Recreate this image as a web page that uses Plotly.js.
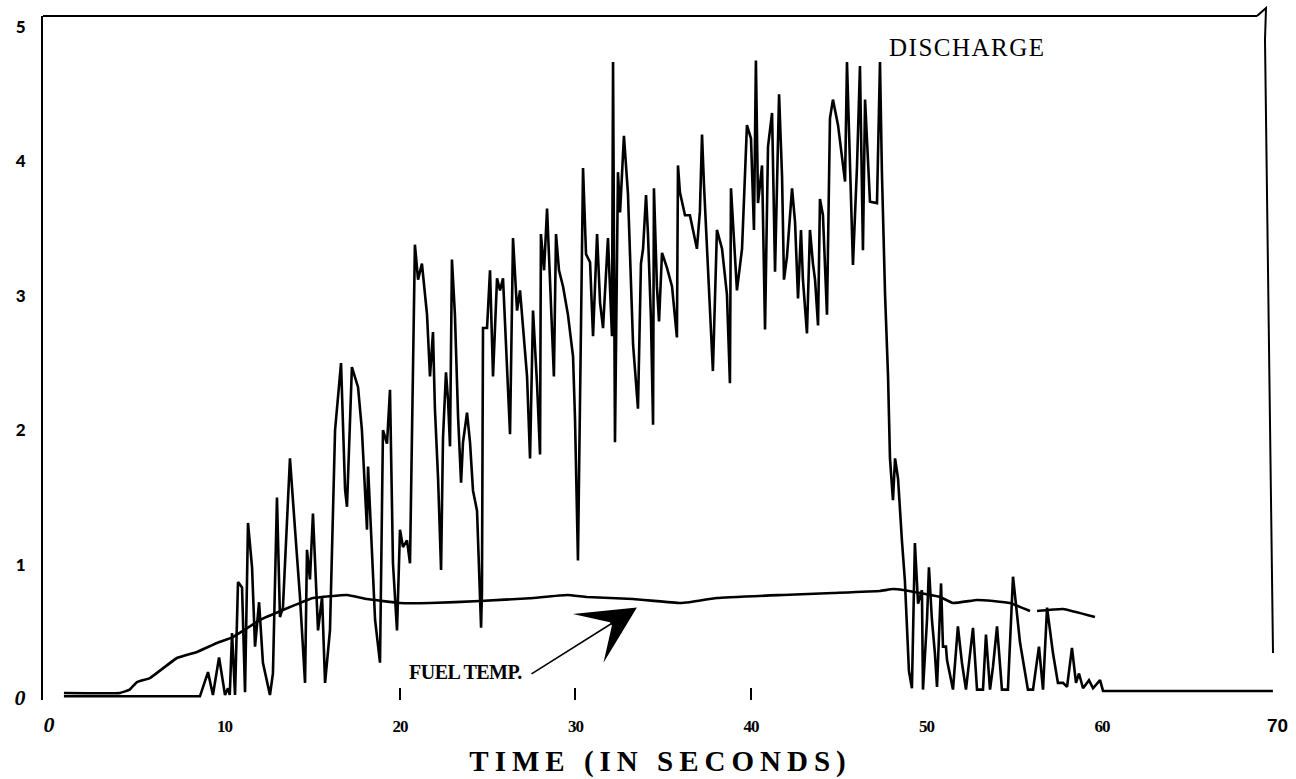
<!DOCTYPE html>
<html>
<head>
<meta charset="utf-8">
<script src="https://cdn.plot.ly/plotly-3.0.1.min.js"></script>
<style>
  html, body { margin: 0; padding: 0; background: #fff; }
  #chart { width: 1296px; height: 779px; }
  .g-xtitle text { letter-spacing: 6px; }
</style>
</head>
<body>
<div id="chart"></div>
<script>
// ---- data (time in seconds) ----
const fuelTime = [0.85, 4.05, 4.6, 5.01, 5.75, 7.29, 8.43, 9.57, 10.48, 12.02, 13.33, 15.04, 16.98, 18.12, 20.0, 21.71,
  24.56, 27.4, 29.52, 30.66, 33.28, 35.95, 36.5, 38.06, 41.82, 44.67, 47.35, 48.09, 48.66, 50.77, 51.51, 52.88,
  53.79, 54.76, 55.9, 56.1, 56.3, 57.78, 59.6];
const fuelTemp = [0.045, 0.045, 0.07, 0.126, 0.156, 0.305, 0.35, 0.417, 0.461, 0.588, 0.662, 0.751, 0.774, 0.744, 0.714, 0.714,
  0.729, 0.75, 0.774, 0.759, 0.744, 0.714, 0.72, 0.751, 0.774, 0.789, 0.804, 0.818, 0.811, 0.759, 0.714, 0.737,
  0.729, 0.714, 0.655, null, 0.655, 0.67, 0.61];

const dischargeTime = [0.85, 8.6, 9.06, 9.34, 9.69, 10.03, 10.2, 10.3, 10.43, 10.6, 10.77, 11.0, 11.17, 11.34, 11.57,
  11.74, 11.97, 12.19, 12.59, 12.76, 12.99, 13.16, 13.33, 13.73, 14.02, 14.3, 14.59, 14.7, 14.87, 15.04, 15.33,
  15.56, 15.73, 16.01, 16.3, 16.64, 16.87, 16.98, 17.26, 17.61, 17.83, 18.12, 18.18, 18.4, 18.58, 18.86, 19.03,
  19.26, 19.43, 19.6, 19.83, 20.0, 20.17, 20.4, 20.57, 20.85, 21.03, 21.25, 21.42,
  21.54, 21.71, 21.88, 21.99, 22.17, 22.34, 22.45, 22.62, 22.74, 22.85, 22.96, 23.13, 23.31, 23.48, 23.59, 23.82,
  23.99, 24.16, 24.39, 24.62, 24.67, 24.73, 24.96, 25.13, 25.3, 25.53, 25.7, 25.87, 26.1, 26.27, 26.44, 26.67,
  26.84, 27.01, 27.24, 27.41, 27.58, 27.81, 27.98, 28.03, 28.21, 28.38, 28.6, 28.77, 28.89, 29.06, 29.29, 29.57,
  29.86, 29.97, 30.14, 30.26, 30.43, 30.6, 30.83, 31.0, 31.23, 31.4, 31.57, 31.85, 32.08, 32.14, 32.25, 32.42,
  32.54, 32.76, 32.99, 33.28, 33.56,
  33.73, 33.85, 34.02, 34.13, 34.3, 34.42, 34.47, 34.64, 34.76, 34.93, 35.21, 35.5, 35.78, 35.84, 35.95, 36.24,
  36.52, 36.92, 37.09, 37.21, 37.32, 37.49, 37.66, 37.83, 38.06, 38.35, 38.63, 38.8, 38.86, 39.03, 39.2, 39.49,
  39.77, 40.0, 40.17, 40.28, 40.4, 40.63, 40.8, 40.97, 41.2, 41.37, 41.6, 41.77, 41.88, 42.05, 42.34, 42.51,
  42.68, 42.85, 42.96, 43.19, 43.36, 43.53, 43.65, 43.82, 43.93, 44.1, 44.33, 44.5, 44.67, 44.96, 45.36, 45.47,
  45.64, 45.81, 46.04, 46.21, 46.38, 46.5, 46.78, 47.18, 47.35, 47.46, 47.64, 47.81, 47.92, 48.09, 48.21, 48.38,
  48.6, 48.77, 49.0, 49.17, 49.34, 49.52, 49.74, 49.8, 50.03, 50.14, 50.31, 50.48, 50.6, 50.83, 50.94, 51.11,
  51.17, 51.34, 51.51, 51.79, 52.02, 52.25, 52.65, 52.88, 53.22, 53.39, 53.62, 53.79, 54.02, 54.3, 54.64, 54.93,
  55.33, 55.78, 56.07, 56.41, 56.64, 56.87, 57.21, 57.49, 57.78, 58.01, 58.29, 58.52, 58.69, 58.92, 59.26, 59.49,
  59.89, 60.06, 69.74];
const dischargeValue = [0.02, 0.02, 0.2, 0.03, 0.31, 0.03, 0.08, 0.03, 0.49, 0.03, 0.87, 0.83, 0.05, 1.31, 0.98,
  0.39, 0.72, 0.27, 0.03, 0.19, 1.5, 0.61, 0.68, 1.79, 1.26, 0.76, 0.12, 1.11, 0.89, 1.38, 0.51,
  0.76, 0.12, 0.51, 2.0, 2.5, 1.56, 1.43, 2.47, 2.32, 2.0, 1.26, 1.73, 1.03, 0.59, 0.27, 2.0,
  1.9, 2.3, 1.01, 0.51, 1.26, 1.13, 1.18, 1.01, 3.38, 3.12, 3.24, 2.99,
  2.86, 2.4, 2.73, 2.16, 1.64, 0.96, 1.94, 2.43, 2.22, 1.88, 3.27, 2.86, 2.1, 1.61, 1.91, 2.13,
  1.91, 1.55, 1.4, 0.53, 0.79, 2.76, 2.76, 3.19, 2.4, 3.13, 3.04, 3.13, 2.52, 1.97, 3.43, 2.89,
  3.04, 2.76, 2.4, 1.79, 2.89, 2.34, 1.82, 3.46, 3.19, 3.65, 3.01, 2.4, 3.46, 3.19, 3.07, 2.86,
  2.55, 2.1, 1.03, 2.1, 3.95, 3.31, 3.25, 2.7, 3.46, 2.95, 2.76, 3.43, 2.7, 4.74, 1.91, 3.92,
  3.62, 4.19, 3.76, 2.64, 2.16,
  3.24, 3.35, 3.75, 3.46, 2.83, 2.04, 3.8, 3.07, 2.81, 3.32, 3.21, 3.07, 2.69, 3.97, 3.77, 3.6,
  3.6, 3.35, 3.63, 4.2, 3.83, 3.35, 2.83, 2.44, 3.49, 3.35, 3.01, 2.35, 3.8, 3.41, 3.04, 3.35,
  4.27, 4.17, 3.49, 4.75, 3.69, 3.97, 2.75, 4.11, 4.36, 3.18, 4.5, 3.89, 3.12, 3.29, 3.8, 3.55,
  2.98, 3.49, 3.12, 2.72, 3.49, 3.24, 3.12, 2.78, 3.72, 3.6, 2.86, 4.32, 4.46, 4.27, 3.85, 4.74,
  4.04, 3.23, 3.96, 4.71, 3.34, 4.46, 3.7, 3.69, 4.74, 3.92, 3.01, 2.4, 1.79, 1.48, 1.79, 1.64,
  1.18, 0.88, 0.21, 0.08, 1.16, 0.71, 0.81, 0.07, 0.59, 0.98, 0.59, 0.34, 0.09, 0.86, 0.39, 0.39,
  0.29, 0.19, 0.07, 0.54, 0.27, 0.07, 0.53, 0.07, 0.07, 0.48, 0.07, 0.24, 0.54, 0.07, 0.07, 0.91,
  0.42, 0.07, 0.07, 0.39, 0.07, 0.68, 0.34, 0.12, 0.12, 0.09, 0.38, 0.12, 0.19, 0.08, 0.14, 0.08,
  0.14, 0.06, 0.06];

const xTickVals = [0, 10, 20, 30, 40, 50, 60, 70];
const xTickLabels = ['0', '10', '20', '30', '40', '50', '60', '70'];
const xMarkedTicks = [20, 30, 40];
const yTickVals = [0, 1, 2, 3, 4, 5];
const yTickLabels = ['0', '1', '2', '3', '4', '5'];
const xTitle = 'TIME (IN SECONDS)';
const dischargeLabel = 'DISCHARGE';
const fuelLabel = 'FUEL TEMP.';
// label anchor points (seconds, value)
const dischargeLabelPos = [47.75, 4.85];
const fuelLabelPos = [20.4, 0.2];
const arrowTail = [27.41, 0.18];
const arrowHead = [33.5, 0.68];

// ---- styling helpers ----
const italicZero = t => '<span style="font-family:\'Liberation Serif\';font-style:italic;font-weight:bold;font-size:22px">' + t + '</span>';
const xLabelStyle = (t, i) => {
  if (i === 0) return italicZero(t);
  if (i === xTickLabels.length - 1) return '<span style="font-family:\'Liberation Sans\';font-weight:bold;font-size:19px">' + t + '</span>';
  return '<span style="font-family:\'Liberation Serif\';font-weight:bold;font-size:17px;letter-spacing:-1px">' + t + '</span>';
};
const yLabelStyle = (t, i) => i === 0 ? italicZero(t)
  : '<span style="font-family:Lato;font-weight:900;font-size:17px">' + t + '</span>';

const traces = [
  { x: dischargeTime, y: dischargeValue, type: 'scatter', mode: 'lines',
    line: { color: '#000', width: 2.6 }, hoverinfo: 'skip', showlegend: false },
  { x: fuelTime, y: fuelTemp, type: 'scatter', mode: 'lines', connectgaps: false,
    line: { color: '#000', width: 2.6, shape: 'spline', smoothing: 0.3 }, hoverinfo: 'skip', showlegend: false },
  { x: xMarkedTicks, y: xMarkedTicks.map(() => null), xaxis: 'x2', yaxis: 'y', type: 'scatter', mode: 'lines',
    hoverinfo: 'skip', showlegend: false }
];

const px = v => (v - 43) / 1235;   // helper for frame shapes only (paper fraction)
const py = v => (700 - v) / 684;

const layout = {
  width: 1296, height: 779,
  paper_bgcolor: '#fff', plot_bgcolor: '#fff',
  margin: { l: 43, r: 18, t: 16, b: 79 },
  font: { family: 'Liberation Serif', color: '#000' },
  xaxis: {
    range: [-0.342, 70.03], showgrid: false, zeroline: false, showline: false,
    tickmode: 'array', tickvals: xTickVals, ticktext: xTickLabels.map(xLabelStyle),
    ticks: '', ticklabelstandoff: 14, tickfont: { color: '#000', size: 17 },
    title: { text: xTitle, font: { family: 'Liberation Serif', size: 29, weight: 'bold', color: '#000' }, standoff: 14 }
  },
  xaxis2: {
    overlaying: 'x', matches: 'x', anchor: 'y', side: 'bottom', showgrid: false, zeroline: false, showline: false,
    tickmode: 'array', tickvals: xMarkedTicks, showticklabels: false,
    ticks: 'inside', ticklen: 12, tickwidth: 2, tickcolor: '#000'
  },
  yaxis: {
    range: [-0.0074, 5.082], showgrid: false, zeroline: false,
    showline: true, linecolor: '#000', linewidth: 2,
    tickmode: 'array', tickvals: yTickVals, ticktext: yTickLabels.map(yLabelStyle),
    ticks: '', ticklabelstandoff: 12, tickfont: { color: '#000', size: 17 }
  },
  shapes: [
    { type: 'line', xref: 'paper', yref: 'paper', x0: 0, x1: px(1257), y0: 1, y1: 1, line: { color: '#000', width: 2 } },
    { type: 'path', xref: 'paper', yref: 'paper',
      path: 'M ' + px(1257) + ' ' + py(16) + ' L ' + px(1266) + ' ' + py(8) + ' L ' + px(1265) + ' ' + py(40) +
            ' L ' + px(1273) + ' ' + py(653),
      line: { color: '#000', width: 2 } }
  ],
  annotations: [
    { x: dischargeLabelPos[0], y: dischargeLabelPos[1], xref: 'x', yref: 'y', xanchor: 'left', yanchor: 'middle',
      text: '<span style="letter-spacing:1.5px">' + dischargeLabel + '</span>', showarrow: false,
      font: { family: 'Liberation Serif', size: 25, color: '#000' } },
    { x: fuelLabelPos[0], y: fuelLabelPos[1], xref: 'x', yref: 'y', xanchor: 'left', yanchor: 'middle',
      text: '<span style="letter-spacing:-0.5px">' + fuelLabel + '</span>', showarrow: false,
      font: { family: 'Liberation Serif', size: 20, weight: 'bold', color: '#000' } },
    { x: arrowHead[0], y: arrowHead[1], ax: arrowTail[0], ay: arrowTail[1], xref: 'x', yref: 'y', axref: 'x', ayref: 'y',
      text: '', showarrow: true, arrowhead: 3, arrowsize: 6, arrowwidth: 1.6, arrowcolor: '#000', standoff: 0 }
  ]
};

Plotly.newPlot('chart', traces, layout, { staticPlot: true, displayModeBar: false });
</script>
</body>
</html>
